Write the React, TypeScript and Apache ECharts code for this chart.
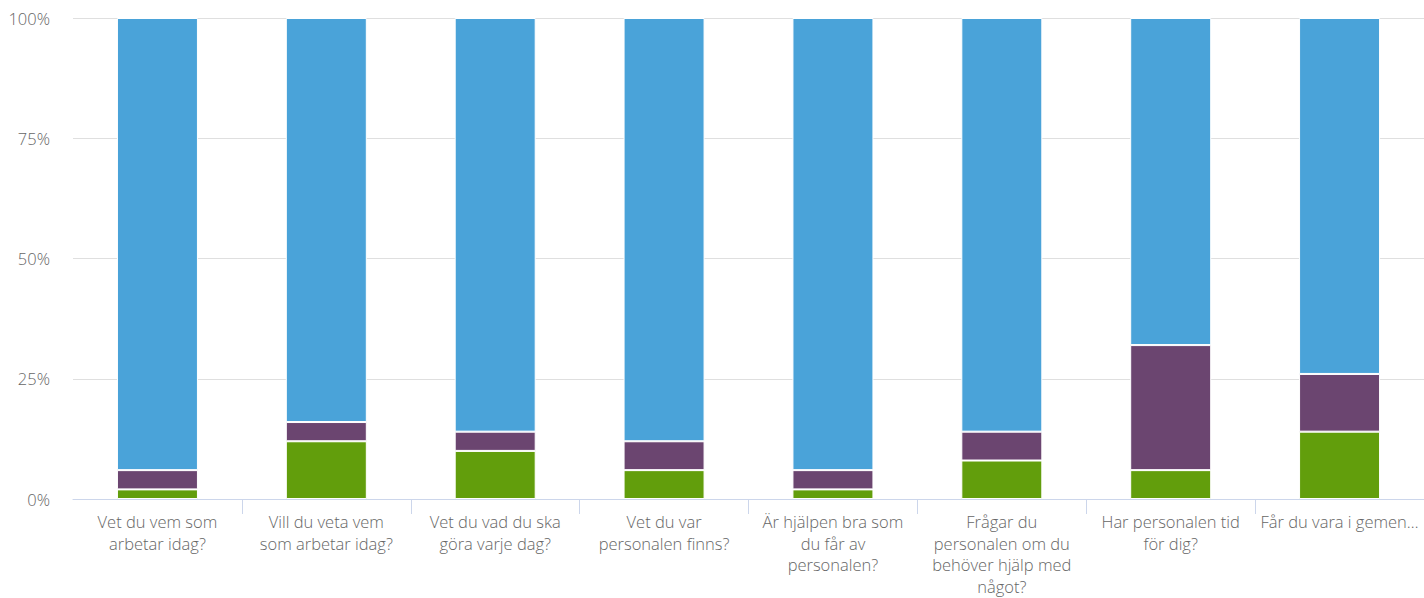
import React, { useEffect, useRef } from "react";
import * as echarts from "echarts";

const categories = [
  "Vet du vem som\narbetar idag?",
  "Vill du veta vem\nsom arbetar idag?",
  "Vet du vad du ska\ngöra varje dag?",
  "Vet du var\npersonalen finns?",
  "Är hjälpen bra som\ndu får av\npersonalen?",
  "Frågar du\npersonalen om du\nbehöver hjälp med\nnågot?",
  "Har personalen tid\nför dig?",
  "Får du vara i gemen…",
];

const greenValues = [2, 12, 10, 6, 2, 8, 6, 14];
const purpleValues = [4, 4, 4, 6, 4, 6, 26, 12];
const blueValues = [94, 84, 86, 88, 94, 86, 68, 74];

const yTicks = [0, 25, 50, 75, 100];

export default function App() {
  const ref = useRef<HTMLDivElement>(null);
  useEffect(() => {
    document.body.style.margin = "0";
    const chart = echarts.init(ref.current!, undefined, { renderer: "svg" });
    const font = "'Open Sans', sans-serif";
    const mk = (name: string, data: number[], color: string) => ({
      name,
      type: "bar",
      stack: "total",
      data,
      barWidth: 81,
      itemStyle: { color, borderColor: "#ffffff", borderWidth: 1 },
    });
    chart.setOption({
      animation: false,
      grid: { left: 73, right: 0, top: 18, bottom: 99, containLabel: false },
      xAxis: {
        type: "category",
        data: categories,
        axisLine: { lineStyle: { color: "#ccd6eb", width: 1 } },
        axisTick: {
          show: true,
          length: 15,
          lineStyle: { color: "#ccd6eb" },
          interval: (index: number) => index !== 0,
        },
        axisLabel: {
          interval: 0,
          color: "#666666",
          fontFamily: font,
          fontWeight: 300,
          fontSize: 16.5,
          lineHeight: 21.5,
          margin: 12,
        },
      },
      yAxis: {
        type: "value",
        min: yTicks[0],
        max: yTicks[yTicks.length - 1],
        interval: 25,
        axisLine: { show: false },
        axisTick: { show: false },
        splitLine: { lineStyle: { color: "#dfdfdf", width: 1 } },
        axisLabel: {
          color: "#666666",
          fontFamily: font,
          fontWeight: 300,
          fontSize: 16.5,
          margin: 23,
          formatter: (v: number) => `${v}%`,
        },
      },
      series: [
        mk("Grön", greenValues, "#629e0c"),
        mk("Lila", purpleValues, "#6b4570"),
        mk("Blå", blueValues, "#4aa3d9"),
      ],
    });
    return () => chart.dispose();
  }, []);
  return <div ref={ref} style={{ width: 1424, height: 598 }} />;
}
